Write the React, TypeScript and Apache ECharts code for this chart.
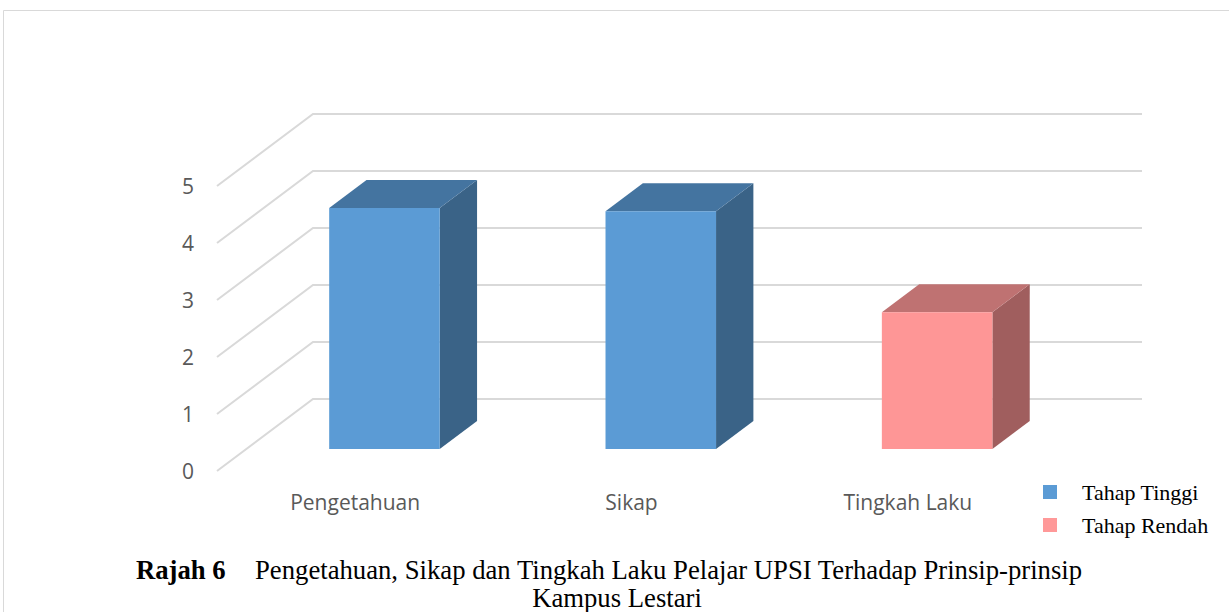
import React, { useEffect, useRef } from "react";
import * as echarts from "echarts";

const categories = ["Pengetahuan", "Sikap", "Tingkah Laku"];
const tahapTinggi = [4.23, 4.17, null];
const tahapRendah = [null, null, 2.4];
const yTicks = [0, 1, 2, 3, 4, 5];

const DX = 96;
const DY = 72;
const D1 = 0.305;
const D2 = 0.694;

function makeBar(front: string, top: string, side: string) {
  return (params: any, api: any) => {
    const idx = api.value(0);
    const val = api.value(1);
    const base = api.coord([idx, 0]);
    const tp = api.coord([idx, val]);
    const w = api.size([1, 0])[0] * 0.4;
    const fx = base[0] - w / 2 + D1 * DX;
    const fy0 = base[1] - D1 * DY;
    const fy1 = tp[1] - D1 * DY;
    const bx = (D2 - D1) * DX;
    const by = (D2 - D1) * DY;
    return {
      type: "group",
      children: [
        {
          type: "polygon",
          shape: { points: [[fx + w, fy1], [fx + w + bx, fy1 - by], [fx + w + bx, fy0 - by], [fx + w, fy0]] },
          style: { fill: side },
        },
        {
          type: "polygon",
          shape: { points: [[fx, fy1], [fx + w, fy1], [fx + w + bx, fy1 - by], [fx + bx, fy1 - by]] },
          style: { fill: top },
        },
        {
          type: "rect",
          shape: { x: fx, y: fy1, width: w, height: fy0 - fy1 },
          style: { fill: front },
        },
      ],
    };
  };
}

export default function App() {
  const ref = useRef<HTMLDivElement>(null);
  useEffect(() => {
    const chart = echarts.init(ref.current!, null, { renderer: "svg" });
    const tinggiData = categories
      .map((c, i) => [i, tahapTinggi[i]])
      .filter((d) => d[1] !== null);
    const rendahData = categories
      .map((c, i) => [i, tahapRendah[i]])
      .filter((d) => d[1] !== null);
    chart.setOption({
      animation: false,
      backgroundColor: "#ffffff",
      grid: { left: 217, right: 183, top: 186, bottom: 141 },
      xAxis: {
        type: "category",
        data: categories,
        axisLine: { show: false },
        axisTick: { show: false },
        axisLabel: { margin: 20, color: "#595959", fontSize: 21, fontFamily: "Open Sans" },
      },
      yAxis: {
        type: "value",
        min: 0,
        max: 5,
        interval: 1,
        splitLine: { show: false },
        axisLine: { show: false },
        axisLabel: { margin: 23, color: "#595959", fontSize: 21, fontFamily: "Open Sans" },
      },
      legend: {
        orient: "vertical",
        left: 1043,
        top: 481,
        padding: 0,
        icon: "rect",
        itemWidth: 14,
        itemHeight: 14,
        itemGap: 11,
        textStyle: { color: "#000", fontFamily: "Liberation Serif", fontSize: 22, lineHeight: 20, padding: [0, 0, 0, 20] },
        data: ["Tahap Tinggi", "Tahap Rendah"],
      },
      graphic: [
        {
          type: "rect",
          shape: { x: 3.5, y: 10.5, width: 1400, height: 800 },
          style: { fill: null, stroke: "#d9d9d9", lineWidth: 1 },
          silent: true,
        },
        {
          type: "text",
          x: 136,
          y: 570,
          style: { text: "Rajah 6", font: "bold 26.7px 'Liberation Serif'", lineHeight: 26, fill: "#000", verticalAlign: "middle" },
        },
        {
          type: "text",
          x: 255,
          y: 570,
          style: {
            text: "Pengetahuan, Sikap dan Tingkah Laku Pelajar UPSI Terhadap Prinsip-prinsip",
            font: "26.7px 'Liberation Serif'",
            lineHeight: 26,
            fill: "#000",
            verticalAlign: "middle",
          },
        },
        {
          type: "text",
          x: 617,
          y: 611,
          style: { text: "Kampus Lestari", font: "26.7px 'Liberation Serif'", lineHeight: 26, fill: "#000", align: "center", verticalAlign: "bottom" },
        },
      ],
      series: [
        {
          name: "wall",
          type: "custom",
          silent: true,
          data: yTicks.map((t) => [0, t]),
          encode: { x: 0, y: 1 },
          renderItem: (params: any, api: any) => {
            const v = api.value(1);
            const cs = params.coordSys;
            const y = api.coord([0, v])[1];
            const x0 = cs.x;
            const x1 = cs.x + cs.width;
            return {
              type: "polyline",
              shape: { points: [[x0, y], [x0 + DX, y - DY], [x1 + DX, y - DY]] },
              style: { stroke: "#d9d9d9", lineWidth: 2, fill: null },
            };
          },
        },
        {
          name: "Tahap Tinggi",
          type: "custom",
          data: tinggiData,
          encode: { x: 0, y: 1 },
          itemStyle: { color: "#5B9BD5" },
          renderItem: makeBar("#5B9BD5", "#4474A0", "#3A6387"),
        },
        {
          name: "Tahap Rendah",
          type: "custom",
          data: rendahData,
          encode: { x: 0, y: 1 },
          itemStyle: { color: "#FF9999" },
          renderItem: makeBar("#FE9696", "#BF7272", "#A05E5E"),
        },
      ],
    });
    return () => chart.dispose();
  }, []);
  return <div ref={ref} style={{ position: "fixed", left: 0, top: 0, width: 1229, height: 612 }} />;
}
